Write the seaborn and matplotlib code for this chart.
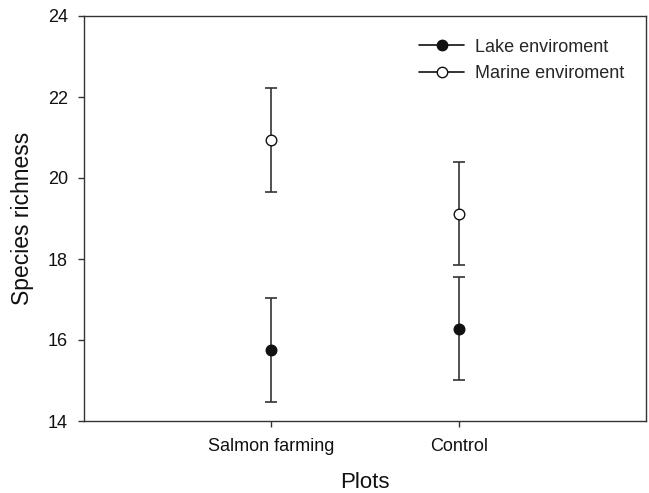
import matplotlib
matplotlib.use("Agg")
import matplotlib.pyplot as plt
import seaborn as sns
import pandas as pd
from matplotlib.lines import Line2D

categories = ["Salmon farming", "Control"]
lake_mean = [15.75, 16.28]
lake_err = [1.28, 1.28]
marine_mean = [20.93, 19.12]
marine_err = [1.28, 1.28]
series = ["Lake enviroment", "Marine enviroment"]

sns.set_theme(style="white")
plt.rcParams["font.family"] = ["Liberation Sans", "DejaVu Sans"]

rows = []
for i, c in enumerate(categories):
    rows.append({"pos": i + 1, "plot": c, "env": series[0], "mean": lake_mean[i], "err": lake_err[i]})
    rows.append({"pos": i + 1, "plot": c, "env": series[1], "mean": marine_mean[i], "err": marine_err[i]})
df = pd.DataFrame(rows)

fig = plt.figure(figsize=(6.49, 4.93), dpi=100)
ax = fig.add_axes([84 / 649, 1 - 421 / 493, (646 - 84) / 649, (421 - 16) / 493])

for env, face in zip(series, ["#111111", "white"]):
    d = df[df["env"] == env]
    ax.errorbar(d["pos"], d["mean"], yerr=d["err"], fmt="none", ecolor="#333333",
                elinewidth=1.2, capsize=4.5, capthick=1.2, zorder=2)
    sns.scatterplot(data=d, x="pos", y="mean", ax=ax, s=58, color=face,
                    edgecolor="#111111", linewidth=1.0, zorder=3, legend=False)

ax.set_xlim(0, 3)
ax.set_ylim(14, 24)
ax.set_xticks([1, 2])
ax.set_xticklabels(categories)
ax.set_yticks([14, 16, 18, 20, 22, 24])
ax.tick_params(axis="both", which="both", direction="out", length=4.5, width=1,
               color="#333333", labelsize=13, bottom=True, left=True, top=False, right=False,
               labelcolor="#111111")
ax.tick_params(axis="x", pad=8)
ax.tick_params(axis="y", pad=7)
for s in ax.spines.values():
    s.set_color("#333333")
    s.set_linewidth(1)
    s.set_visible(True)
ax.set_xlabel("Plots", fontsize=16, labelpad=12, color="#111111")
ax.set_ylabel("Species richness", fontsize=16.5, labelpad=10, color="#111111")

handles = [
    Line2D([], [], color="#111111", lw=1.2, marker="o", markersize=7.5,
           markerfacecolor="#111111", markeredgecolor="#111111"),
    Line2D([], [], color="#111111", lw=1.2, marker="o", markersize=7.5,
           markerfacecolor="white", markeredgecolor="#111111"),
]
ax.legend(handles, series, loc="upper left", bbox_to_anchor=(0.571, 0.98), frameon=False,
          fontsize=13, handlelength=2.5, handletextpad=0.6, labelspacing=0.55,
          borderpad=0.3)

fig.savefig("out.png", dpi=100)
